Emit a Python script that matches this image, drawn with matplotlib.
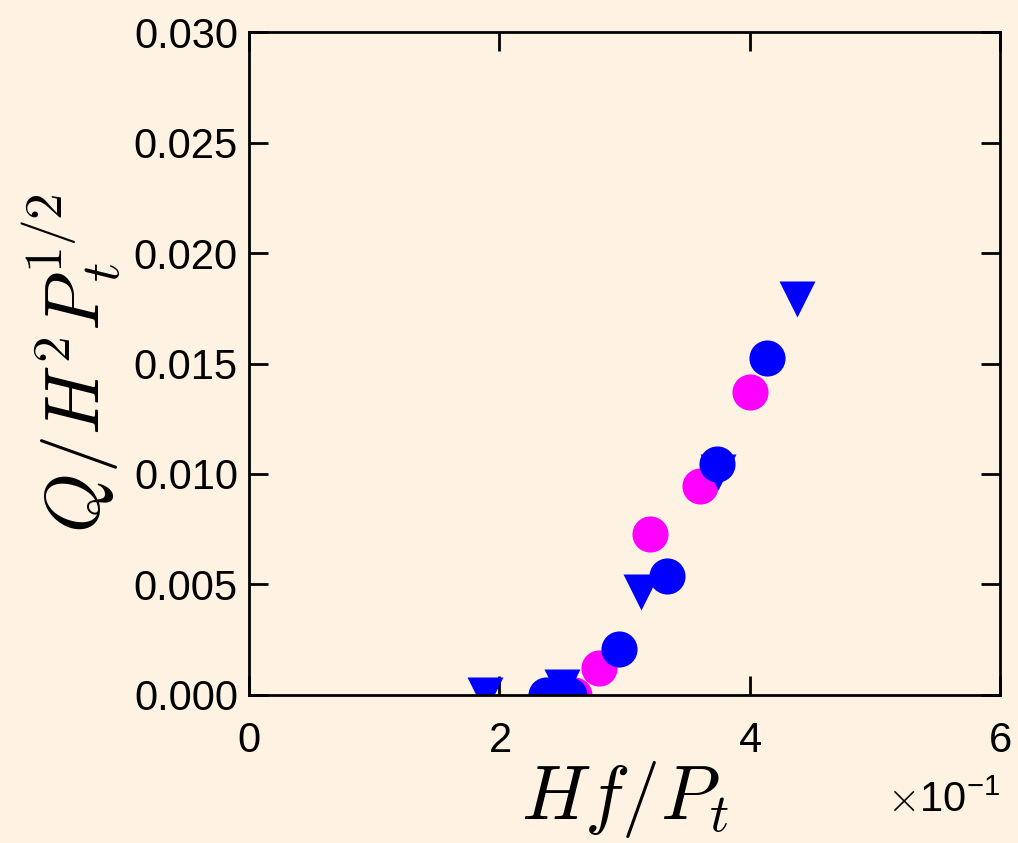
import matplotlib.pyplot as plt
import numpy as np
from matplotlib.ticker import ScalarFormatter, FormatStrFormatter

# data (x in units of 1e-1)
pink_x = [2.60, 2.80, 3.20, 3.60, 4.005]
pink_y = [0.0, 0.00122, 0.00729, 0.00946, 0.0137]
tri_x = [1.885, 2.50, 3.13, 3.75, 4.38]
tri_y = [0.0, 0.00036, 0.00466, 0.0101, 0.0179]
blue_x = [2.37, 2.56, 2.955, 3.34, 3.74, 4.14]
blue_y = [0.0, 0.0, 0.00208, 0.00538, 0.01045, 0.01525]

bg = '#fef3e2'
plt.rcParams['font.family'] = ['Liberation Sans', 'DejaVu Sans']
plt.rcParams['mathtext.fontset'] = 'cm'

fig = plt.figure(figsize=(10.18, 8.43), dpi=100, facecolor=bg)
ax = fig.add_axes([0.2446, 0.1756, 0.7377, 0.7864], facecolor=bg)

ms = 26
ax.plot(np.array(pink_x) * 0.1, pink_y, 'o', color='#ff00ff', ms=ms, mec='none', zorder=2)
ax.plot(np.array(tri_x) * 0.1, tri_y, 'v', color='#0000ff', ms=ms, mec='none', zorder=3)
ax.plot(np.array(blue_x) * 0.1, blue_y, 'o', color='#0000ff', ms=ms, mec='none', zorder=4)

ax.set_xlim(0, 0.6)
ax.set_ylim(0, 0.030)
ax.set_xticks([0, 0.2, 0.4, 0.6])
ax.set_yticks(np.arange(0, 0.0301, 0.005))

fmt = ScalarFormatter(useMathText=True)
fmt.set_powerlimits((0, 0))
ax.xaxis.set_major_formatter(fmt)
ax.xaxis.get_offset_text().set_visible(False)
ax.yaxis.set_major_formatter(FormatStrFormatter('%.3f'))

ax.tick_params(which='both', direction='in', length=14, width=2,
               top=True, right=True, labelsize=30)
ax.tick_params(axis='x', pad=19)
ax.tick_params(axis='y', pad=8)
for s in ax.spines.values():
    s.set_linewidth(2)
    s.set_zorder(6)
ax.set_axisbelow(False)

# multiplier shown under the right end of the x axis
fig.text(1000 / 1018, 31 / 843, r'$\times\mathdefault{10^{-1}}$', fontsize=30,
         ha='right', va='baseline')

ax.set_xlabel(r'$Hf/P_t$', fontsize=55, labelpad=-2)
ax.set_ylabel(r'$Q/H^2P_t^{1/2}$', fontsize=55, labelpad=8)

plt.savefig('out.png', dpi=100, facecolor=bg)
